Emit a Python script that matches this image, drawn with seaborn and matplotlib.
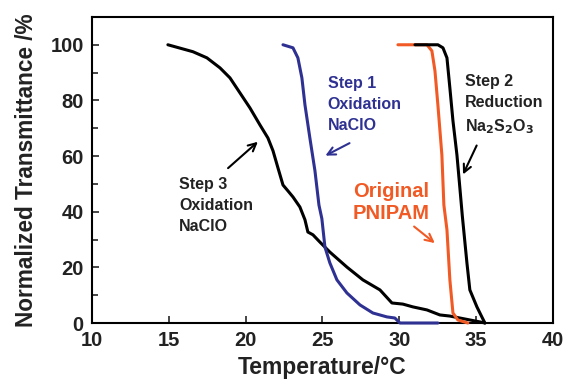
import numpy as np
import pandas as pd
import matplotlib
matplotlib.use("Agg")
import matplotlib.pyplot as plt
import seaborn as sns
from matplotlib.ticker import MultipleLocator

# ---------------------------
# Data
# ---------------------------
step3_temp = [14.94, 16.57, 17.48, 18.33, 18.98, 19.63, 20.28, 20.93, 21.45, 21.78,
              22.10, 22.43, 22.75, 23.08, 23.53, 23.86, 24.05, 24.38, 24.83, 25.48,
              26.59, 27.63, 28.74, 29.52, 30.23, 30.88, 31.80, 32.64, 33.29, 33.94,
              34.59, 35.24, 35.57]
step3_trans = [100, 97.5, 95.3, 91.7, 88.1, 82.7, 77.3, 71.2, 66.5, 61.9,
               55.8, 49.6, 47.5, 45.3, 41.7, 37.1, 32.7, 31.7, 29.1, 25.5,
               20.1, 15.5, 11.9, 7.2, 6.8, 5.8, 4.7, 2.9, 2.5, 1.8,
               1.1, 0.4, 0]

step1_temp = [22.43, 23.08, 23.40, 23.66, 23.86, 24.18, 24.51, 24.77, 24.96, 25.16,
              25.48, 25.94, 26.59, 27.44, 28.28, 29.19, 29.71, 30.04, 32.51]
step1_trans = [100, 98.9, 95.3, 88.1, 78.4, 66.5, 54.7, 42.4, 37.5, 27.3,
               21.6, 15.5, 10.8, 6.5, 3.6, 2.2, 1.8, 0, 0]

orig_temp = [29.91, 31.80, 32.12, 32.32, 32.51, 32.77, 32.90, 33.10, 33.29, 33.49,
             33.81, 34.46]
orig_trans = [100, 100, 97.8, 90.6, 78.4, 60.4, 42.4, 33.5, 15.5, 3.6, 1.1, 0]

step2_temp = [31.02, 32.51, 32.84, 33.10, 33.29, 33.49, 33.75, 33.94, 34.10, 34.40,
              34.59, 35.05, 35.37, 35.57]
step2_trans = [100, 100, 98.9, 95.3, 84.5, 72.7, 60.4, 48.6, 38.5, 21.6,
               11.9, 5.8, 2.2, 0]

blue = "#2e3192"
orange = "#f15a24"

sns.set_style("ticks")
plt.rcParams['font.family'] = ['Liberation Sans', 'DejaVu Sans']
plt.rcParams['font.weight'] = 'bold'

fig = plt.figure(figsize=(5.66, 3.85), dpi=100)
ax = fig.add_axes([0.1625, 0.161, 0.8145, 0.795])

series = [
    (step3_temp, step3_trans, "black"),
    (step1_temp, step1_trans, blue),
    (orig_temp, orig_trans, orange),
    (step2_temp, step2_trans, "black"),
]
for t, tr, c in series:
    sns.lineplot(x=t, y=tr, color=c, linewidth=2.2, sort=False, ax=ax,
                 clip_on=False, zorder=3)

ax.set_xlim(10, 40)
ax.set_ylim(0, 110)
ax.set_xticks([10, 15, 20, 25, 30, 35, 40])
ax.set_yticks([0, 20, 40, 60, 80, 100])
ax.yaxis.set_minor_locator(MultipleLocator(10))
ax.tick_params(axis='both', which='both', direction='in', width=1.2)
ax.tick_params(axis='both', which='major', length=5, labelsize=14.5)
ax.tick_params(axis='x', which='major', pad=6)
ax.tick_params(axis='y', which='major', pad=6)
ax.tick_params(axis='y', which='minor', length=4)
for sp in ax.spines.values():
    sp.set_linewidth(1.5)
    sp.set_color("black")
for lab in ax.get_xticklabels() + ax.get_yticklabels():
    lab.set_fontweight('bold')
    lab.set_color('#222222')

ax.set_xlabel("Temperature/°C", fontsize=16.5, fontweight='bold', labelpad=4,
              color='#222222')
ax.set_ylabel("Normalized Transmittance /%", fontsize=16.3, fontweight='bold',
              labelpad=9, color='#222222')

# annotations
txt = dict(fontsize=11.5, fontweight='bold', va='center', ha='left', linespacing=1.5)
arrow = dict(arrowstyle="->", lw=1.5, mutation_scale=14)

ax.text(25.35, 78.4, "Step 1\nOxidation\nNaClO", color=blue, **txt)
ax.annotate("", xy=(25.03, 59.7), xytext=(26.92, 65.1),
            arrowprops=dict(color=blue, **arrow))

ax.text(26.98, 43.3, "Original\nPNIPAM", color=orange, fontsize=14.5, fontweight='bold',
        va='center', ha='left', linespacing=1.2)
ax.annotate("", xy=(32.45, 28.1), xytext=(30.82, 35.3),
            arrowprops=dict(color=orange, **arrow))

ax.text(34.27, 78.4, "Step 2\nReduction\nNa$_2$S$_2$O$_3$", color="#222222", **txt)
ax.annotate("", xy=(34.07, 52.5), xytext=(35.11, 64.7),
            arrowprops=dict(color="black", **arrow))

ax.text(15.66, 42.4, "Step 3\nOxidation\nNaClO", color="#222222", **txt)
ax.annotate("", xy=(20.93, 65.8), xytext=(18.72, 55.0),
            arrowprops=dict(color="black", **arrow))

fig.savefig("out.png", dpi=100)
